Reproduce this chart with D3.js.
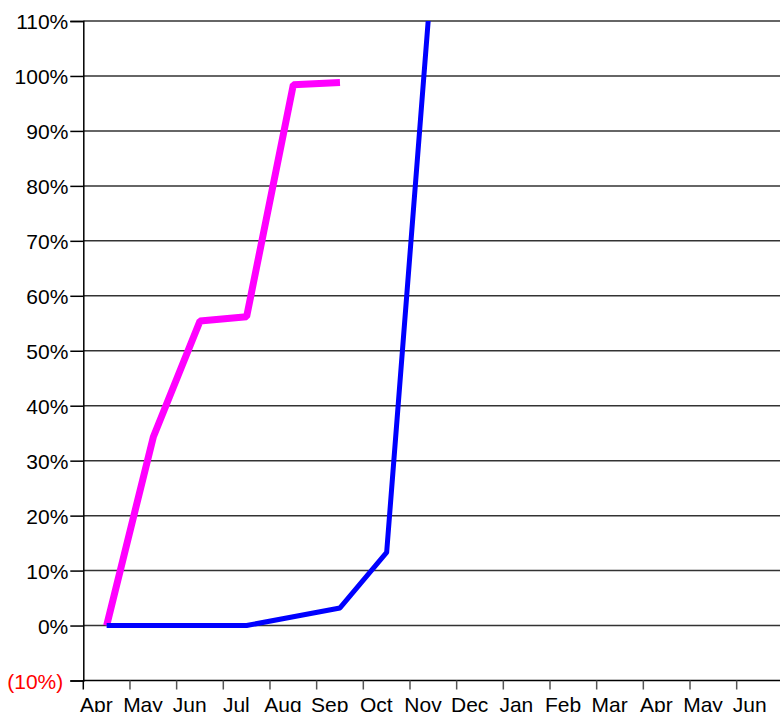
<!DOCTYPE html>
<html>
<head>
<meta charset="utf-8">
<script src="https://cdn.jsdelivr.net/npm/d3@7"></script>
<style>
  body { margin: 0; background: #fff; }
  svg { display: block; }
  svg text { font-family: "Liberation Sans", Arial, sans-serif; }
</style>
</head>
<body>
<script>
// Data
const months = ['Apr', 'May', 'Jun', 'Jul', 'Aug', 'Sep', 'Oct', 'Nov', 'Dec', 'Jan', 'Feb', 'Mar', 'Apr', 'May', 'Jun'];
const pinkSeries = [0, 34.3, 55.4, 56.2, 98.4, 98.8];
const blueSeries = [0, 0, 0, 0, 1.6, 3.2, 13.3, 122];
const yTicks = [-10, 0, 10, 20, 30, 40, 50, 60, 70, 80, 90, 100, 110];

const width = 780,
    height = 712;
const plot = { left: 83.3, right: 83.3 + 15 * 46.67, top: 21, bottom: 680.5 };
const fontFamily = '"Liberation Sans", Arial, sans-serif';

let svg = d3
    .select('body')
    .append('svg')
    .attr('width', width)
    .attr('height', height);

// Scales
let x = d3
    .scaleBand()
    .domain(d3.range(months.length))
    .range([plot.left, plot.right]);

let y = d3
    .scaleLinear()
    .domain([-10, 110])
    .range([plot.bottom, plot.top]);

// Gridlines
svg.append('g')
    .selectAll('line')
    .data(yTicks.filter(d => d >= 0))
    .enter()
    .append('line')
    .attr('x1', plot.left)
    .attr('x2', width)
    .attr('y1', d => y(d))
    .attr('y2', d => y(d))
    .attr('stroke', '#333')
    .attr('stroke-width', 1.5);

// y-axis
let yAxis = svg.append('g').attr('transform', `translate(${plot.left}, 0)`);
yAxis.call(
    d3.axisLeft(y)
        .tickValues(yTicks)
        .tickSize(13)
        .tickFormat(d => (d < 0 ? `(${-d}%)` : `${d}%`))
);
yAxis.attr('font-family', fontFamily).attr('font-size', 21);
yAxis.select('.domain').attr('stroke', '#000').attr('stroke-width', 1.5);
yAxis.selectAll('.tick line').attr('stroke', '#000').attr('stroke-width', 1.5);
yAxis.selectAll('.tick text')
    .attr('x', -15)
    .attr('dy', '0.36em')
    .attr('fill', d => (d < 0 ? '#ff0000' : '#000'))
    .attr('transform', d => (d < 0 ? 'translate(-5,0)' : null));

// x-axis
let xAxis = svg.append('g')
    .attr('transform', `translate(0, ${plot.bottom})`)
    .attr('font-family', fontFamily)
    .attr('font-size', 21);

xAxis.append('line')
    .attr('x1', plot.left)
    .attr('x2', width)
    .attr('stroke', '#000')
    .attr('stroke-width', 1.5);

xAxis.selectAll('line.tick')
    .data(d3.range(months.length))
    .enter()
    .append('line')
    .attr('class', 'tick')
    .attr('x1', d => x(d))
    .attr('x2', d => x(d))
    .attr('y1', 0)
    .attr('y2', 9)
    .attr('stroke', d => (d === 0 ? '#000' : '#555'))
    .attr('stroke-width', 1.5);

xAxis.selectAll('text')
    .data(months)
    .enter()
    .append('text')
    .attr('x', (d, i) => x(i) + 13)
    .attr('y', 31)
    .attr('text-anchor', 'middle')
    .attr('fill', '#000')
    .text(d => d);

// Lines
svg.append('clipPath')
    .attr('id', 'plotClip')
    .append('rect')
    .attr('x', plot.left)
    .attr('y', plot.top)
    .attr('width', width - plot.left)
    .attr('height', plot.bottom - plot.top);

let line = d3
    .line()
    .x((d, i) => x(i) + x.bandwidth() / 2)
    .y(d => y(d));

let lines = svg.append('g').attr('clip-path', 'url(#plotClip)');

lines.append('path')
    .datum(pinkSeries)
    .attr('d', line)
    .attr('fill', 'none')
    .attr('stroke', '#ff00ff')
    .attr('stroke-width', 7)
    .attr('stroke-linejoin', 'bevel');

lines.append('path')
    .datum(blueSeries)
    .attr('d', line)
    .attr('fill', 'none')
    .attr('stroke', '#0000ff')
    .attr('stroke-width', 5)
    .attr('stroke-linejoin', 'bevel');
</script>
</body>
</html>
